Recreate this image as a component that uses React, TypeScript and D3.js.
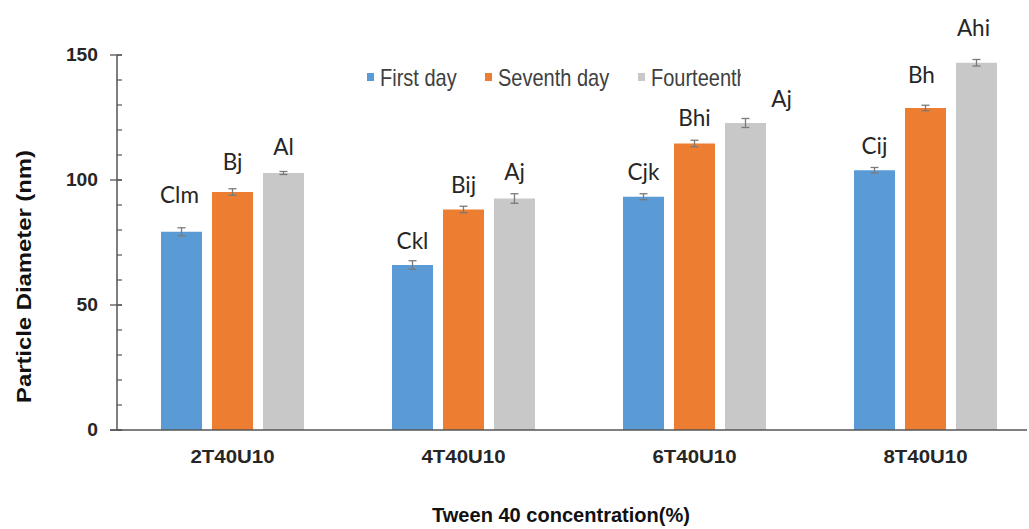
import React from "react";
import * as d3 from "d3";

const categories = ["2T40U10", "4T40U10", "6T40U10", "8T40U10"];
const seriesNames = ["First day", "Seventh day", "Fourteenth"];
const firstDay = [79.3, 66.0, 93.3, 103.9];
const seventhDay = [95.2, 88.2, 114.6, 128.8];
const fourteenthDay = [102.8, 92.6, 122.8, 146.9];
const firstDayErr = [1.6, 1.7, 1.2, 1.1];
const seventhDayErr = [1.3, 1.3, 1.3, 1.1];
const fourteenthDayErr = [0.6, 1.9, 1.8, 1.3];
const firstDayLetters = ["Clm", "Ckl", "Cjk", "Cij"];
const seventhDayLetters = ["Bj", "Bij", "Bhi", "Bh"];
const fourteenthDayLetters = ["Al", "Aj", "Aj", "Ahi"];
const yTicks = [0, 50, 100, 150];

const COLORS = ["#5B9BD5", "#ED7D31", "#C8C8C8"];
// annotation placement (pixels above bar top, horizontal shift)
const LIFT = [
  [29, 16, 17, 16],
  [22, 17, 18, 25],
  [18, 19, 16, 27],
];
const SHIFT = [
  [-2, 0, 0, 0],
  [0, 0, 0, -4],
  [0, 0, 36, -3],
];

export default function App() {
  const W = 1029, H = 529;
  const left = 117, bottom = 430, top = 55;
  const step = 231;
  const values = [firstDay, seventhDay, fourteenthDay];
  const errs = [firstDayErr, seventhDayErr, fourteenthDayErr];
  const letters = [firstDayLetters, seventhDayLetters, fourteenthDayLetters];

  const y = d3.scaleLinear().domain([0, 150]).range([bottom, top]);
  const x0 = d3.scaleBand<string>().domain(categories).range([left, left + step * categories.length]).padding(0);
  const x1 = d3.scaleBand<string>().domain(seriesNames).range([0, x0.bandwidth()]).paddingInner(0.196).paddingOuter(0.863);
  const minor = d3.range(0, 151, 10);

  const boldFont = "'Liberation Sans', Arial, sans-serif";
  const lblFont = "Lato, 'Open Sans', sans-serif";

  return (
    <svg width={W} height={H} style={{ position: "absolute", left: 0, top: 0, background: "#fff" }} xmlns="http://www.w3.org/2000/svg">
      <defs>
        <clipPath id="legclip">
          <rect x={0} y={0} width={741} height={H} />
        </clipPath>
      </defs>
      <rect width={W} height={H} fill="#fff" />
      {/* bars */}
      {categories.map((c, ci) => (
        <g key={c}>
          {seriesNames.map((s, si) => {
            const v = values[si][ci];
            const e = errs[si][ci];
            const bx = (x0(c) as number) + (x1(s) as number);
            const bw = x1.bandwidth();
            const cx = bx + bw / 2;
            return (
              <g key={s}>
                <rect x={bx} y={y(v)} width={bw} height={bottom - y(v)} fill={COLORS[si]} />
                <line x1={cx} x2={cx} y1={y(v + e)} y2={y(v - e)} stroke="#7a7a7a" strokeWidth={1.3} />
                <line x1={cx - 4} x2={cx + 4} y1={y(v + e)} y2={y(v + e)} stroke="#7a7a7a" strokeWidth={1.3} />
                <line x1={cx - 4} x2={cx + 4} y1={y(v - e)} y2={y(v - e)} stroke="#7a7a7a" strokeWidth={1.3} />
                <text x={cx + SHIFT[si][ci]} y={y(v) - LIFT[si][ci]} textAnchor="middle" fontFamily={lblFont} fontSize={22.5} fill="#262626">
                  {letters[si][ci]}
                </text>
              </g>
            );
          })}
          <text x={(x0(c) as number) + x0.bandwidth() / 2 - 42} y={463} textLength={84} lengthAdjust="spacingAndGlyphs" fontFamily={boldFont} fontWeight="bold" fontSize={18} fill="#262626">
            {c}
          </text>
        </g>
      ))}
      {/* y axis */}
      <line x1={left} x2={left} y1={y(150)} y2={bottom} stroke="#555" strokeWidth={1.5} />
      {minor.map((t) => (
        <line key={"m" + t} x1={left} x2={left + 5} y1={y(t)} y2={y(t)} stroke="#555" strokeWidth={1.2} />
      ))}
      {yTicks.map((t) => {
        const s = String(t);
        const w = s.length * 10.7;
        return (
          <g key={"t" + t}>
            <line x1={left - 7} x2={left + 5} y1={y(t)} y2={y(t)} stroke="#555" strokeWidth={1.3} />
            <text x={98 - w} y={y(t) + 6} textLength={w} lengthAdjust="spacingAndGlyphs" fontFamily={boldFont} fontWeight="bold" fontSize={17.5} fill="#262626">
              {s}
            </text>
          </g>
        );
      })}
      {/* x axis */}
      <line x1={left - 7} x2={1027} y1={bottom} y2={bottom} stroke="#555" strokeWidth={1.5} />
      {/* axis titles */}
      <text x={432} y={522} textLength={258} lengthAdjust="spacingAndGlyphs" fontFamily={boldFont} fontWeight="bold" fontSize={20} fill="#111">
        Tween 40 concentration(%)
      </text>
      <text transform={`translate(31,${403}) rotate(-90)`} textLength={253} lengthAdjust="spacingAndGlyphs" fontFamily={boldFont} fontWeight="bold" fontSize={21} fill="#111">
        Particle Diameter (nm)
      </text>
      {/* legend */}
      <g clipPath="url(#legclip)">
        {seriesNames.map((s, i) => {
          const lx = [367, 485, 638][i];
          return (
            <g key={s}>
              <rect x={lx} y={73} width={7} height={8} fill={COLORS[i]} />
              <text transform={`translate(${lx + 13},86) scale(1,1.2)`} fontFamily="'Liberation Sans', Arial, sans-serif" fontSize={20} fill="#404040">
                {s}
              </text>
            </g>
          );
        })}
      </g>
    </svg>
  );
}
